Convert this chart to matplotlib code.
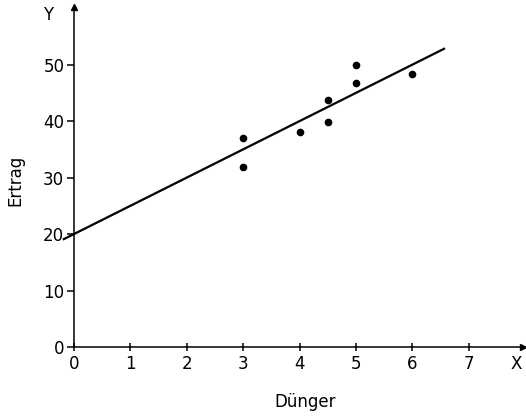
import matplotlib.pyplot as plt
import numpy as np

# data
duenger = [3, 3, 4, 4.5, 4.5, 5, 5, 6]
ertrag = [37, 31.8, 38, 43.8, 39.8, 49.9, 46.7, 48.3]

# regression line y = a + b*x
a, b = 20, 5
line_x = [-0.18, 6.56]

x_ticks = [0, 1, 2, 3, 4, 5, 6, 7]
y_ticks = [0, 10, 20, 30, 40, 50]

fig = plt.figure(figsize=(5.26, 4.17), dpi=100)
ax = fig.add_axes([0.1407, 0.1679, 0.8536, 0.8153])

ax.plot(duenger, ertrag, 'o', color='black', markersize=4.5)
lx = np.array(line_x)
ax.plot(lx, a + b * lx, color='black', linewidth=1.6, clip_on=False)

ax.set_xlim(0, 7.96)
ax.set_ylim(0, 60.2)

for s in ['top', 'right']:
    ax.spines[s].set_visible(False)
for s in ['left', 'bottom']:
    ax.spines[s].set_linewidth(1.1)

# arrow heads
ax.plot(1, 0, '>', color='black', markersize=5, transform=ax.get_yaxis_transform(), clip_on=False)
ax.plot(0, 1, '^', color='black', markersize=5, transform=ax.get_xaxis_transform(), clip_on=False)

ax.set_xticks(x_ticks)
ax.set_yticks(y_ticks)
ax.tick_params(axis='x', direction='inout', length=6, width=1.1, pad=3, labelsize=12)
ax.tick_params(axis='y', direction='out', length=5, width=1.1, pad=2, labelsize=12)

ax.text(-0.46, 58.8, 'Y', fontsize=12, ha='center', va='center', clip_on=False)
ax.text(7.84, -3.0, 'X', fontsize=12, ha='center', va='center', clip_on=False)

fig.text(15 / 526, 1 - 180 / 417, 'Ertrag', rotation=90, fontsize=12, ha='center', va='center')
fig.text(305 / 526, 1 - 402 / 417, 'Dünger', fontsize=12, ha='center', va='center')

fig.savefig('out.png', dpi=100)
